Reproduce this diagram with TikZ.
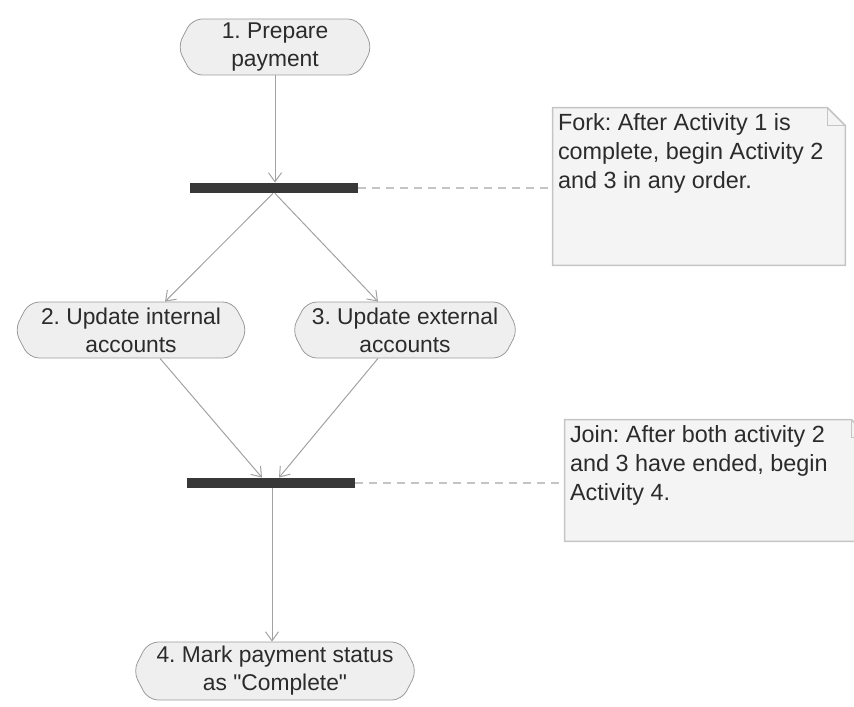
\documentclass[tikz,border=0pt]{standalone}
\usepackage{fontspec}
\setmainfont{Liberation Sans}
\usepackage{tikz}
\usetikzlibrary{arrows.meta,shapes.symbols}
\frenchspacing

\definecolor{actfill}{HTML}{EFEFEF}
\definecolor{actline}{HTML}{9C9C9C}
\definecolor{notefill}{HTML}{F4F4F4}
\definecolor{noteline}{HTML}{C4C4C4}
\definecolor{barfill}{HTML}{383838}
\definecolor{flowline}{HTML}{A2A2A2}
\definecolor{inktext}{HTML}{2B2B2B}

\tikzset{
    activity/.style = {signal, signal to=west and east, signal pointer angle=125,
        rounded corners=5pt, draw=actline, fill=actfill, text=inktext,
        align=center, inner sep=0pt, minimum height=28pt,
        font={\fontsize{11.4}{14}\selectfont}},
    syncbar/.style = {rectangle, fill=barfill, inner sep=0pt,
        minimum width=84pt, minimum height=5pt},
    notebox/.style = {rectangle, inner sep=0pt},
    notetext/.style = {anchor=north west, align=left, text=inktext, inner sep=0pt,
        font={\fontsize{11.7}{14.5}\selectfont}},
    flow/.style = {draw=flowline, line width=0.5pt,
        -{Straight Barb[length=4.5pt, width=6.5pt]}},
    anchorline/.style = {draw=noteline, line width=0.7pt, dash pattern=on 4pt off 3pt}
}

\begin{document}
\begin{tikzpicture}[x=0.5pt, y=-0.5pt]
        \clip (0, 0) rectangle (854, 706);

        % activities
        \node[activity, minimum width=97.5pt] (act1) at (275, 47) {1. Prepare\\payment};
        \node[activity, minimum width=116.5pt] (act2) at (131, 330) {2. Update internal\\accounts};
        \node[activity, minimum width=113pt] (act3) at (405, 330) {3. Update external\\accounts};
        \node[activity, minimum width=142pt, minimum height=29pt] (act4) at (275, 671) {4. Mark payment status\\as \textquotedbl Complete\textquotedbl};

        % fork and join bars
        \node[syncbar] (fork) at (274, 188) {};
        \node[syncbar] (join) at (271, 483) {};

        % notes
        \node[notebox, minimum width=146pt, minimum height=78.5pt] (forknote) at (699, 186.5) {};
        \fill[notefill] (forknote.south west) -- (forknote.south east) -- ([yshift=-9pt]forknote.north east)
            -- ([xshift=-9pt]forknote.north east) -- (forknote.north west) -- cycle;
        \draw[noteline, line width=0.8pt] (forknote.south west) -- (forknote.south east) -- ([yshift=-9pt]forknote.north east)
            -- ([xshift=-9pt]forknote.north east) -- (forknote.north west) -- cycle;
        \draw[noteline, line width=0.6pt] ([xshift=-9pt]forknote.north east) -- ([xshift=-9pt, yshift=-9pt]forknote.north east)
            -- ([yshift=-9pt]forknote.north east);
        \node[notetext] (forktext) at ([xshift=2.5pt, yshift=-3pt]forknote.north west)
            {Fork: After Activity 1 is\\complete, begin Activity 2\\and 3 in any order.};

        \node[notebox, minimum width=152pt, minimum height=60.5pt] (joinnote) at (717, 480.5) {};
        \fill[notefill] (joinnote.south west) -- (joinnote.south east) -- ([yshift=-9pt]joinnote.north east)
            -- ([xshift=-9pt]joinnote.north east) -- (joinnote.north west) -- cycle;
        \draw[noteline, line width=0.8pt] (joinnote.south west) -- (joinnote.south east) -- ([yshift=-9pt]joinnote.north east)
            -- ([xshift=-9pt]joinnote.north east) -- (joinnote.north west) -- cycle;
        \draw[noteline, line width=0.6pt] ([xshift=-9pt]joinnote.north east) -- ([xshift=-9pt, yshift=-9pt]joinnote.north east)
            -- ([yshift=-9pt]joinnote.north east);
        \node[notetext] (jointext) at ([xshift=2.5pt, yshift=-3pt]joinnote.north west)
            {Join: After both activity 2\\and 3 have ended, begin\\Activity 4.};

        % control flow
        \draw[flow] (act1.south) -- (act1.south |- fork.north);
        \draw[flow] ([xshift=-0.5pt]fork.south) -- ([xshift=17pt]act2.north);
        \draw[flow] ([xshift=0.5pt]fork.south) -- ([xshift=-13.5pt]act3.north);
        \draw[flow] ([xshift=14.5pt]act2.south) -- ([xshift=-4.5pt]join.north);
        \draw[flow] ([xshift=-13.5pt]act3.south) -- ([xshift=4pt]join.north);
        \draw[flow] ([xshift=0.5pt]join.south) -- ([xshift=0.5pt]join.south |- act4.north);

        % note anchors
        \draw[anchorline] (fork.east) -- (fork.east -| forknote.west);
        \draw[anchorline] (join.east) -- (join.east -| joinnote.west);
    \end{tikzpicture}
\end{document}
